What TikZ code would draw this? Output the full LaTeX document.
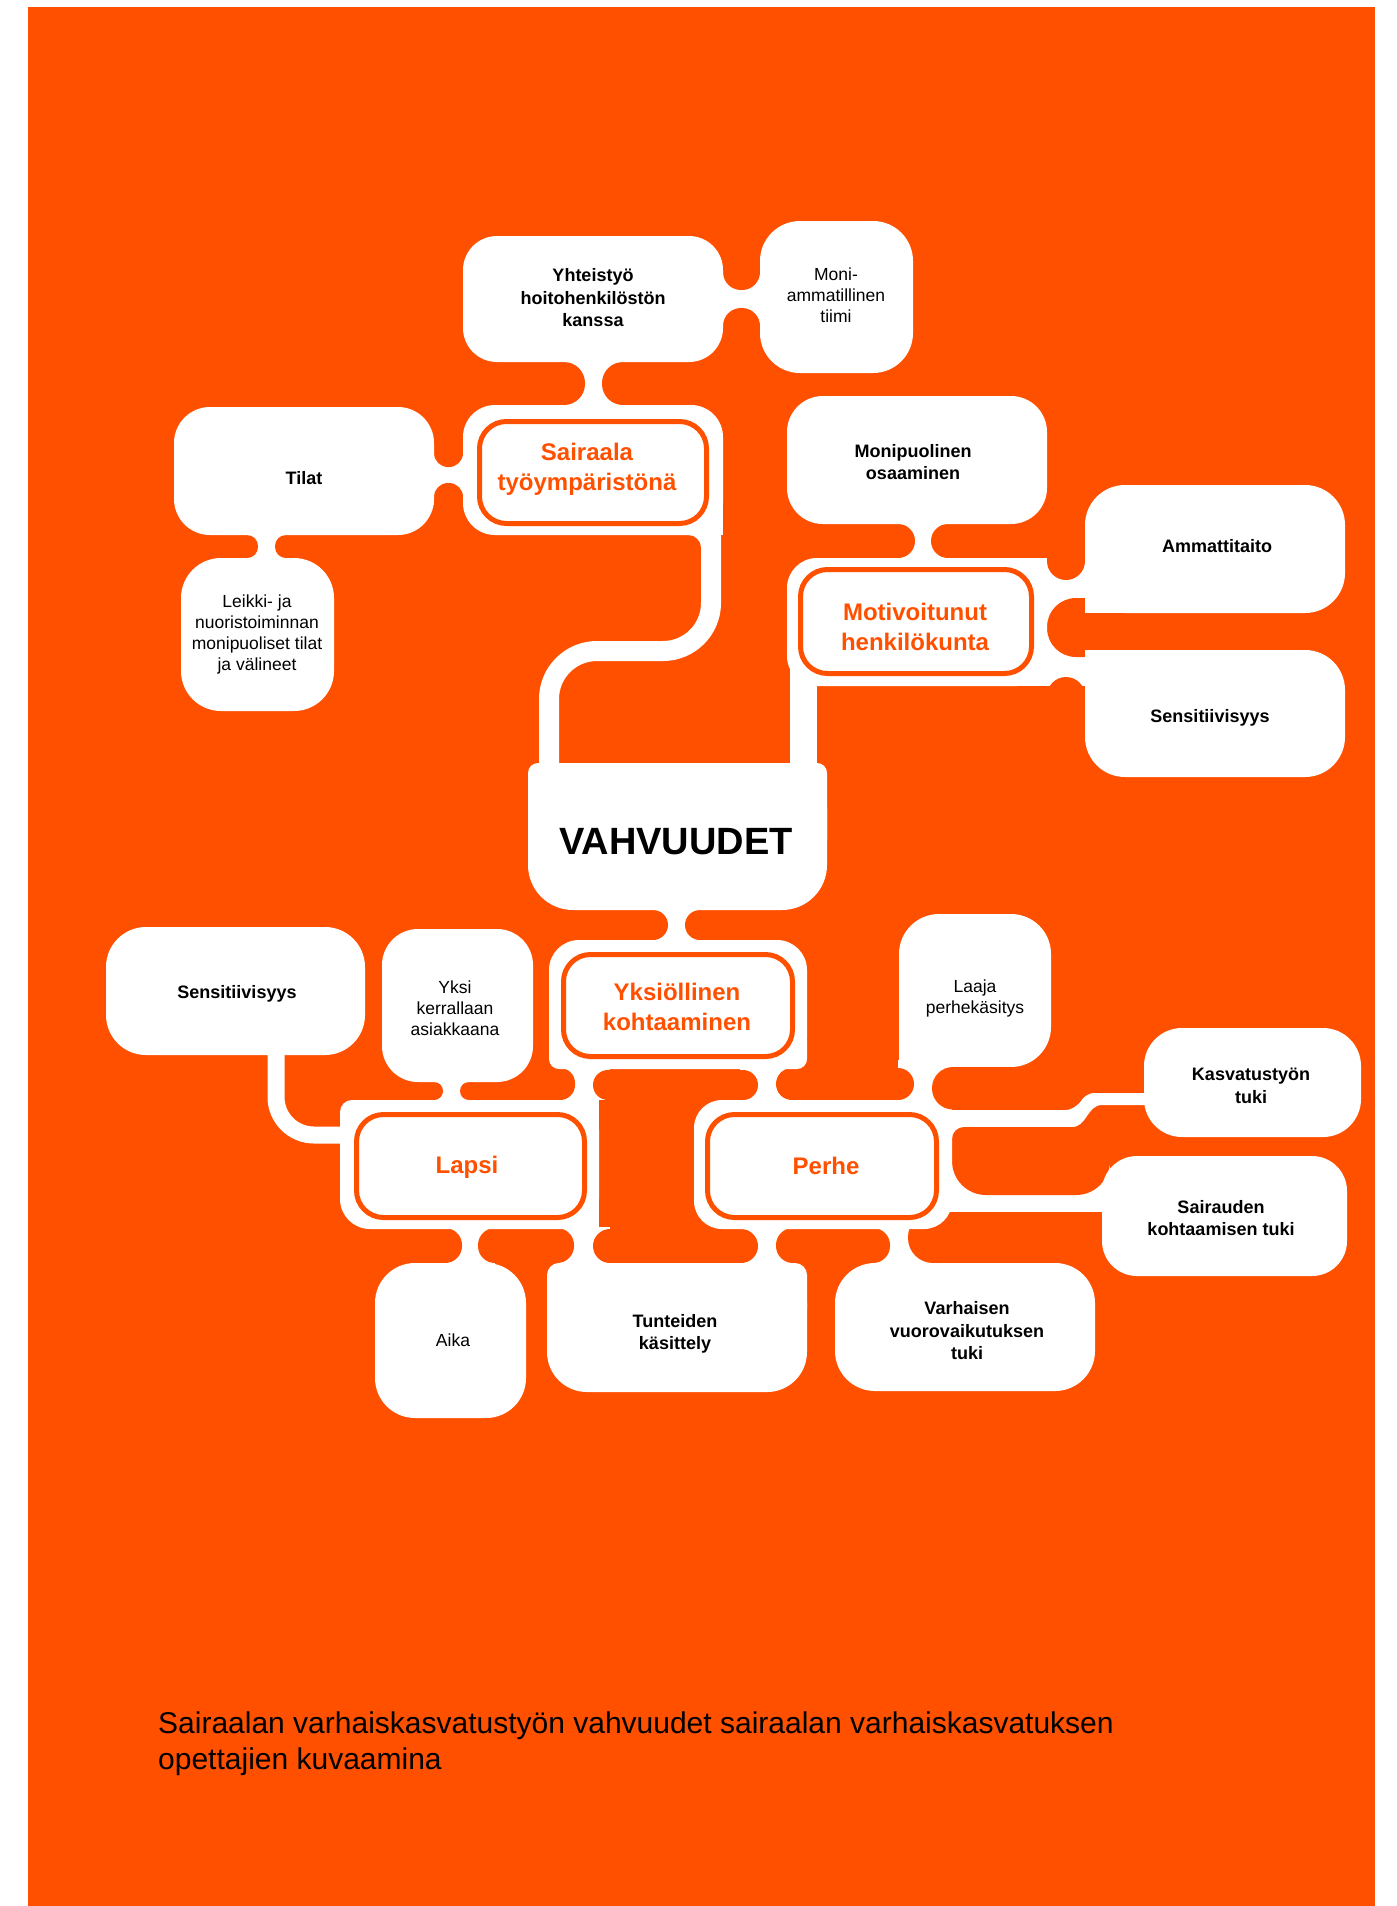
\documentclass[tikz,border=0pt]{standalone}
\usepackage{fontspec}
\setmainfont{Liberation Sans}
\definecolor{org}{HTML}{FF5000}
\newcommand\myfs[2]{\fontsize{#1pt}{#2pt}\selectfont}
\begin{document}
\begin{tikzpicture}[x=1pt,y=-1pt,
  wfill/.style={fill=white},
  ofill/.style={fill=org},
  wline/.style={draw=white, line cap=butt},
  ibox/.style={draw=org, line width=5pt, fill=white, rounded corners=27pt},
  lb/.style={align=center, text=black, font=\myfs{18}{22.5}\bfseries, inner sep=0pt},
  lr/.style={align=center, text=black, font=\myfs{17.5}{21}, inner sep=0pt},
  ttl/.style={align=center, text=org, font=\myfs{24}{30}\bfseries, inner sep=0pt}]
\useasboundingbox (0,0) rectangle (1397,1906);
\fill[white] (0,0) rectangle (1397,1906);
\fill[ofill] (28,7) rectangle (1375,1906);

% ---------- bridges (white) ----------
\fill[wfill] (722,268) rectangle (761,330);
\fill[wfill] (560,361) rectangle (627,406);
\fill[wfill] (433,445) rectangle (464,505);
\fill[wfill] (240,534) rectangle (293,559);
\draw[wline, line width=20pt, rounded corners=48pt] (711,515) -- (711,651) -- (549,651) -- (549,800);
\fill[wfill] (688,530) rectangle (702,548);
\fill[wfill] (895,523) rectangle (951,559);
\fill[wfill] (1046,558) rectangle (1086,686);
\fill[wfill] (790,655) rectangle (817,800);
\fill[wfill] (650,909) rectangle (703,941);
\draw[wline, line width=17pt, rounded corners=38pt] (276,1040) -- (276,1135) -- (350,1135);
\fill[wfill] (425,1081) rectangle (478,1101);
\fill[wfill] (560,1060) rectangle (610,1100);
\fill[wfill] (575,1095) rectangle (597,1101);
\fill[wfill] (740,1060) rectangle (795,1101);
\fill[wfill] (898,1060) rectangle (953,1101);
\fill[wfill] (935,1110) -- (1065,1110) .. controls (1080,1110) and (1080,1093) .. (1095,1093)
   -- (1155,1093) -- (1155,1105) -- (1102,1105) .. controls (1087,1105) and (1087,1127) .. (1072,1127)
   -- (935,1127) -- cycle;
\fill[wfill] (935,1120) rectangle (966,1145);
\fill[wfill] (930,1140) rectangle (1110,1212);
\fill[wfill] (445,1227) rectangle (495,1264);
\fill[wfill] (557,1227) rectangle (610,1264);
\fill[wfill] (740,1227) rectangle (795,1264);
\fill[wfill] (873,1227) rectangle (933,1264);

% ---------- lobes (orange) ----------
\fill[ofill] (688,548) circle[radius=13];
\fill[ofill, rounded corners=18pt] (723,150) rectangle (760,290);
\fill[ofill, rounded corners=18pt] (723,308) rectangle (760,440);
\fill[ofill, rounded corners=21pt] (400,362) rectangle (585,405);
\fill[ofill, rounded corners=21pt] (602,362) rectangle (745,405);
\fill[ofill, rounded corners=14pt] (434,350) rectangle (463,467);
\fill[ofill, rounded corners=14pt] (434,483) rectangle (463,600);
\fill[ofill, rounded corners=11pt] (140,535) rectangle (258,558);
\fill[ofill, rounded corners=11pt] (275,535) rectangle (440,558);
\fill[ofill, rounded corners=17pt] (760,524) rectangle (915,558);
\fill[ofill, rounded corners=17pt] (931,524) rectangle (1066,558);
\fill[ofill, rounded corners=19pt] (1047,400) rectangle (1085,580);
\fill[ofill, rounded corners=29pt] (1047,598) rectangle (1125,657);
\fill[ofill, rounded corners=19pt] (1047,677) rectangle (1085,820);
\fill[ofill, rounded corners=15pt] (470,910) rectangle (668,940);
\fill[ofill, rounded corners=15pt] (685,910) rectangle (880,940);
\fill[ofill, rounded corners=9pt] (330,1082) rectangle (443,1100);
\fill[ofill, rounded corners=9pt] (460,1082) rectangle (545,1100);
\fill[ofill, rounded corners=15pt] (515,1068) rectangle (575,1100);
\fill[ofill, rounded corners=15pt] (593,1070) rectangle (758,1100);
\fill[ofill, rounded corners=16pt] (776,1068) rectangle (914,1100);
\fill[ofill, rounded corners=34pt] (952,1127) rectangle (1110,1195);
\fill[ofill, rounded corners=12pt] (952,1127) rectangle (1010,1170);
\fill[ofill] (1060,1127) rectangle (1140,1160);
\fill[ofill, rounded corners=25pt] (908,1212) rectangle (1120,1263);
\fill[ofill, rounded corners=17pt] (300,1228) rectangle (462,1263);
\fill[ofill, rounded corners=17pt] (478,1228) rectangle (574,1263);
\fill[ofill, rounded corners=17pt] (593,1229) rectangle (758,1263);
\fill[ofill, rounded corners=17pt] (776,1228) rectangle (890,1263);

% ---------- boxes (white) ----------
\fill[wfill, rounded corners=34pt] (463,236) rectangle (723,362);   % Yhteistyo
\fill[wfill, rounded corners=40pt] (760,221) rectangle (913,373);   % Moni
\fill[wfill, rounded corners=32pt] (463,405) rectangle (723,535);   % Sairaala outer
\fill[wfill] (690,500) rectangle (723,535);
\fill[wfill, rounded corners=36pt] (174,407) rectangle (434,535);   % Tilat
\fill[wfill, rounded corners=40pt] (181,558) rectangle (334,711);   % Leikki
\fill[wfill, rounded corners=36pt] (787,396) rectangle (1047,524);  % Monipuolinen
\fill[wfill, rounded corners=30pt] (787,558) rectangle (1047,686);  % Motiv outer
\fill[wfill] (1000,558) rectangle (1047,686);
\fill[wfill, rounded corners=40pt] (1085,485) rectangle (1345,613); % Ammattitaito
\fill[wfill] (1085,573) rectangle (1125,613);
\fill[wfill, rounded corners=40pt] (1085,650) rectangle (1345,777); % Sensitiivisyys R
\fill[wfill] (1085,650) rectangle (1125,690);
\fill[wfill, rounded corners=45pt] (528,763) rectangle (827,910);   % VAHVUUDET
\fill[wfill, rounded corners=10pt] (528,763) rectangle (827,850);
\fill[wfill, rounded corners=30pt] (549,940) rectangle (807,1069);  % Yksiollinen outer
\fill[wfill, rounded corners=10pt] (549,1030) rectangle (600,1069);
\fill[wfill, rounded corners=10pt] (760,1030) rectangle (807,1069);
\fill[wfill, rounded corners=40pt] (106,927) rectangle (365,1055);  % Sensitiivisyys L
\fill[wfill, rounded corners=36pt] (382,929) rectangle (533,1082);  % Yksi
\fill[wfill, rounded corners=30pt] (340,1100) rectangle (599,1229); % Lapsi outer
\fill[wfill, rounded corners=12pt] (340,1100) rectangle (400,1160);
\fill[wfill] (560,1100) rectangle (599,1229);
\fill[wfill, rounded corners=40pt] (899,914) rectangle (1051,1067); % Laaja
\fill[wfill, rounded corners=8pt] (899,1020) rectangle (950,1067);
\fill[wfill, rounded corners=28pt] (694,1100) rectangle (952,1229); % Perhe outer
\fill[wfill] (912,1100) rectangle (952,1140);
\fill[wfill, rounded corners=38pt] (1144,1028) rectangle (1361,1137); % Kasvatus
\fill[wfill, rounded corners=35pt] (1102,1156) rectangle (1347,1276); % Sairauden
\fill[wfill, rounded corners=40pt] (375,1263) rectangle (526,1418); % Aika
\fill[wfill, rounded corners=40pt] (547,1263) rectangle (807,1392); % Tunteiden
\fill[wfill, rounded corners=12pt] (547,1263) rectangle (807,1320);
\fill[wfill, rounded corners=40pt] (835,1263) rectangle (1095,1391); % Varhaisen

% lobe cutting the top-right corner of the Perhe blob
\fill[ofill, rounded corners=21pt] (932,1067) rectangle (1085,1109.5);

% ---------- inner boxes ----------
\draw[ibox] (479.5,421.5) rectangle (706.5,523.5);
\draw[ibox] (800.5,569.5) rectangle (1031.5,673.5);
\draw[ibox] (563.5,954.5) rectangle (792.5,1056.5);
\draw[ibox] (356.5,1114.5) rectangle (584.5,1217.5);
\draw[ibox] (707.5,1114.5) rectangle (936.5,1217.5);

% ---------- texts ----------
\node[lb] (yht) at (593,298) {Yhteistyö\\hoitohenkilöstön\\kanssa};
\node[lr] (moni) at (836,295) {Moni-\\ammatillinen\\tiimi};
\node[ttl] (sai) at (587,469) {Sairaala\\työympäristönä};
\node[lb] (tilat) at (304,478) {Tilat};
\node[lr] (leikki) at (257,634) {Leikki- ja\\nuoristoiminnan\\monipuoliset tilat\\ja välineet};
\node[lb] (monip) at (913,462) {Monipuolinen\\osaaminen};
\node[ttl] (motiv) at (915,627) {Motivoitunut\\henkilökunta};
\node[lb] (amm) at (1217,546) {Ammattitaito};
\node[lb] (sensr) at (1210,718) {Sensitiivisyys};
\node[align=center, text=black, font=\myfs{38}{44}\bfseries, inner sep=0pt] (vahv) at (676,842) {VAHVUUDET};
\node[ttl] (yks) at (677,1007) {Yksiöllinen\\kohtaaminen};
\node[lb] (sensl) at (237,994) {Sensitiivisyys};
\node[lr] (yksi) at (455,1008) {Yksi\\kerrallaan\\asiakkaana};
\node[lr] (laaja) at (975,998) {Laaja\\perhekäsitys};
\node[ttl] (lapsi) at (467,1167) {Lapsi};
\node[ttl] (perhe) at (826,1166) {Perhe};
\node[lb] (kasv) at (1251,1086) {Kasvatustyön\\tuki};
\node[lb] (sairauden) at (1221,1218) {Sairauden\\kohtaamisen tuki};
\node[lr] (aika) at (453,1340) {Aika};
\node[lb] (tunt) at (675,1334) {Tunteiden\\käsittely};
\node[lb] (varh) at (967,1331) {Varhaisen\\vuorovaikutuksen\\tuki};
\node[anchor=west, align=left, text=black, font=\myfs{30}{36}, inner sep=0pt] (cap) at (158,1744) {Sairaalan varhaiskasvatustyön vahvuudet sairaalan varhaiskasvatuksen\\opettajien kuvaamina};
\end{tikzpicture}
\end{document}
